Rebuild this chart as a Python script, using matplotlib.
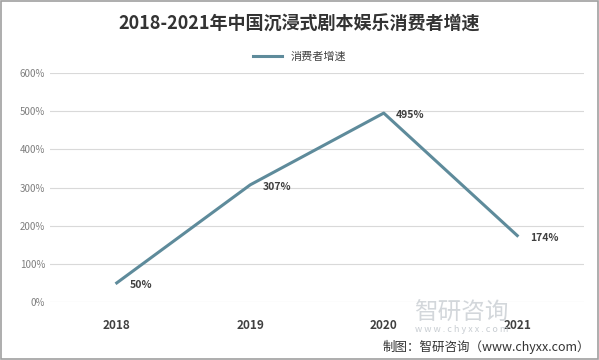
import matplotlib
matplotlib.use("Agg")
from matplotlib import pyplot as plt
from matplotlib.patches import Rectangle

plt.rcParams['font.family'] = ['Noto Sans CJK SC', 'DejaVu Sans']

years = ["2018", "2019", "2020", "2021"]
growth = [50, 307, 495, 174]
labels = ["50%", "307%", "495%", "174%"]
yticks = [0, 100, 200, 300, 400, 500, 600]

fig = plt.figure(figsize=(5.99, 3.6), dpi=100)
ax = fig.add_axes([50 / 599, 1 - 302 / 360, 534 / 599, 229 / 360])

x = list(range(len(years)))
ax.plot(x, growth, color='#5e8b9b', linewidth=2.2, label='消费者增速')
for xi, v, t in zip(x, growth, labels):
    ax.annotate(t, (xi, v), xytext=(9, -1.5), textcoords='offset points',
                fontsize=7.5, fontweight='bold', color='#404040', va='center')

ax.set_xlim(-0.5, 3.5)
ax.set_ylim(0, 600)
ax.set_yticks(yticks)
ax.set_yticklabels([f"{v}%" for v in yticks], fontsize=7, color='#7f7f7f')
ax.set_xticks(x)
ax.set_xticklabels(years, fontsize=8.5, fontweight='bold', color='#404040')
ax.tick_params(length=0)
ax.tick_params(axis='x', pad=12)
ax.grid(axis='y', color='#d9d9d9', linewidth=0.8)
ax.set_axisbelow(True)
for s in ax.spines.values():
    s.set_visible(False)

fig.text(0.5, 1 - 24 / 360, '2018-2021年中国沉浸式剧本娱乐消费者增速',
         ha='center', va='center', fontsize=13, fontweight='bold', color='#333333')
ax.legend(loc='center', bbox_to_anchor=(0.5, 1 - 57 / 360), bbox_transform=fig.transFigure,
          frameon=False, fontsize=8, handlelength=2.6, labelcolor='#404040')

# watermark and source
fig.text(0.77, 1 - 313 / 360, '智研咨询', ha='center', va='center', fontsize=17,
         color='#c8cdd2', alpha=0.8)
fig.text(0.77, 1 - 330 / 360, 'w w w . c h y x x . c o m', ha='center', va='center',
         fontsize=6.5, color='#c8cdd2')
fig.text(0.985, 1 - 347 / 360, '制图：智研咨询（www.chyxx.com）', ha='right', va='center',
         fontsize=9, color='#333333')

fig.patches.append(Rectangle((0.002, 0.003), 0.996, 0.994, transform=fig.transFigure,
                             fill=False, edgecolor='#a0a0a0', linewidth=1.2))

fig.savefig('out.png', dpi=100)
